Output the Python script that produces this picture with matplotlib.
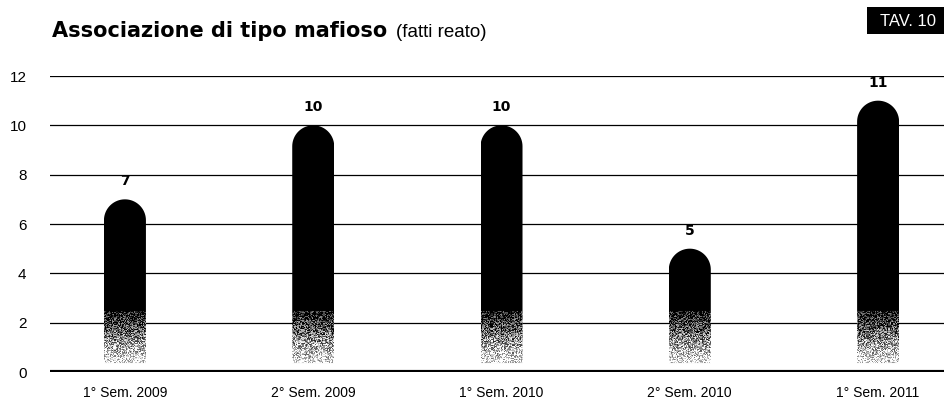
import numpy as np
import matplotlib.pyplot as plt
from matplotlib.path import Path
from matplotlib.patches import PathPatch, Rectangle

categories = ["1° Sem. 2009", "2° Sem. 2009", "1° Sem. 2010", "2° Sem. 2010", "1° Sem. 2011"]
values = [7, 10, 10, 5, 11]
yticks = [0, 2, 4, 6, 8, 10, 12]

plt.rcParams['font.family'] = ['Liberation Sans', 'DejaVu Sans']

fig = plt.figure(figsize=(9.44, 4.05), dpi=100)
ax = fig.add_axes([50 / 944, 33 / 405, 894 / 944, 296 / 405])

x = np.arange(len(categories))
ax.set_xlim(-0.398, 4.35)
ax.set_ylim(0, 12)

# grid lines
for t in yticks[1:]:
    ax.axhline(t, color='black', lw=0.9, zorder=1)
ax.axhline(0, color='black', lw=3, zorder=4)

bar_w = 0.223
cap_h = 0.85

# vertical gradient: black on top, grainy fade to white near the base
rng = np.random.default_rng(3)


def bar_path(xc, top):
    hw = bar_w / 2
    body_top = top - cap_h
    t = np.linspace(0, np.pi, 40)
    arc = np.column_stack([xc + hw * np.cos(t), body_top + cap_h * np.sin(t)])
    verts = np.vstack([[xc + hw, 0.0], [xc + hw, body_top], arc, [xc - hw, 0.0], [xc + hw, 0.0]])
    codes = [Path.MOVETO] + [Path.LINETO] * (len(verts) - 2) + [Path.CLOSEPOLY]
    return Path(verts, codes)


for xi, v in zip(x, values):
    p = PathPatch(bar_path(xi, v), facecolor='none', edgecolor='none')
    ax.add_patch(p)
    ny, nx = 300, 40
    yy = np.linspace(v, 0, ny)[:, None]
    base = np.clip((yy - 0.3) / 2.2, 0, 1)
    img = 1 - base
    img = img + (rng.random((ny, nx)) - 0.5) * 0.9 * (img > 0.02) * (img < 0.98)
    img = np.clip(img, 0, 1)
    im = ax.imshow(img, cmap='gray', vmin=0, vmax=1, extent=[xi - bar_w / 2, xi + bar_w / 2, 0, v],
                   aspect='auto', zorder=3, interpolation='nearest')
    im.set_clip_path(p)
    ax.text(xi, v + 0.45, str(v), ha='center', va='bottom', fontsize=10, fontweight='bold',
            family=['DejaVu Sans'], zorder=5)

ax.set_xticks(x)
ax.set_xticklabels(categories, fontsize=10)
ax.set_yticks(yticks)
ax.set_yticklabels([str(t) for t in yticks], fontsize=11)
ax.tick_params(axis='both', length=0)
ax.tick_params(axis='y', pad=17)
ax.tick_params(axis='x', pad=10)
for s in ax.spines.values():
    s.set_visible(False)

# title
t1 = fig.text(52 / 944, 1 - 37 / 405, "Associazione di tipo mafioso", fontsize=15, fontweight='heavy',
              va='baseline', ha='left', family=['DejaVu Sans'])
fig.canvas.draw()
bb = t1.get_window_extent()
fig.text(bb.x1 / 944 + 9 / 944, 1 - 37 / 405, "(fatti reato)", fontsize=13.5, va='baseline', ha='left')

fig.add_artist(Rectangle((867 / 944, 1 - 34 / 405), 77 / 944, 27 / 405, transform=fig.transFigure,
                         facecolor='black', edgecolor='none'))
fig.text(880 / 944, 1 - 21 / 405, "TAV. 10", fontsize=12, color='white', va='center', ha='left')

fig.savefig('out.png', dpi=100)
